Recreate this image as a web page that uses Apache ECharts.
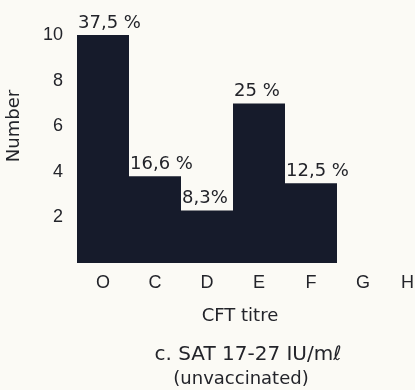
<!DOCTYPE html>
<html><head><meta charset="utf-8">
<script src="https://cdn.jsdelivr.net/npm/echarts@6/dist/echarts.min.js"></script>
<style>html,body{margin:0;padding:0;background:#fbfaf5;}#c{width:415px;height:390px;}</style>
</head><body><div id="c"></div>
<script>
const categories = ['O', 'C', 'D', 'E', 'F', 'G', 'H'];
const counts = [10, 3.8, 2.3, 7, 3.5, null, null];
const percentLabels = ['37,5 %', '16,6 %', '8,3%', '25 %', '12,5 %', '', ''];
const yTicks = [2, 4, 6, 8, 10];
const xTitle = 'CFT titre';
const caption1 = 'c. SAT 17-27 IU/mℓ';
const caption2 = '(unvaccinated)';

const FONT = '"Liberation Sans", Arial, sans-serif';
const WIDE = '"DejaVu Sans", sans-serif';
const INK = '#23242a';
const chart = echarts.init(document.getElementById('c'));
chart.setOption({
  backgroundColor: '#fbfaf5',
  animation: false,
  grid: { left: 77, top: 35, bottom: 127, width: 364, outerBoundsMode: 'none', containLabel: false },
  xAxis: {
    type: 'category',
    data: categories.map((c, i) => i === categories.length - 1
      ? { value: c, textStyle: { align: 'right', padding: [0, 1, 0, 0] } } : c),
    axisLine: { show: false }, axisTick: { show: false },
    axisLabel: { interval: 0, fontSize: 18, fontFamily: FONT, color: INK, margin: 11 }
  },
  yAxis: {
    type: 'value', min: 0, max: 10, interval: 2,
    splitLine: { show: false }, axisLine: { show: false }, axisTick: { show: false },
    axisLabel: {
      fontSize: 18, fontFamily: FONT, color: INK, margin: 14,
      formatter: v => yTicks.includes(v) ? String(v) : ''
    }
  },
  series: [{
    type: 'bar',
    data: counts,
    barCategoryGap: '0%',
    itemStyle: { color: '#161b2b' },
    label: {
      show: true,
      position: [1, -3],
      align: 'left', verticalAlign: 'bottom',
      fontSize: 18, fontFamily: WIDE, color: INK,
      backgroundColor: '#fbfaf5',
      formatter: p => percentLabels[p.dataIndex]
    }
  }],
  graphic: [{
    type: 'text', x: 14, y: 126, rotation: Math.PI / 2,
    style: { text: 'Number', font: '18px ' + WIDE, fill: INK, align: 'center', verticalAlign: 'middle' }
  }],
  title: [
    { text: xTitle, left: 235, top: 302, textAlign: 'center',
      textStyle: { fontSize: 18, fontWeight: 'normal', fontFamily: WIDE, color: INK } },
    { text: caption1, left: 243, top: 340, textAlign: 'center',
      textStyle: { fontSize: 20, fontWeight: 'normal', fontFamily: WIDE, color: INK } },
    { text: caption2, left: 236, top: 365, textAlign: 'center',
      textStyle: { fontSize: 18, fontWeight: 'normal', fontFamily: WIDE, color: INK } }
  ]
});
</script></body></html>
